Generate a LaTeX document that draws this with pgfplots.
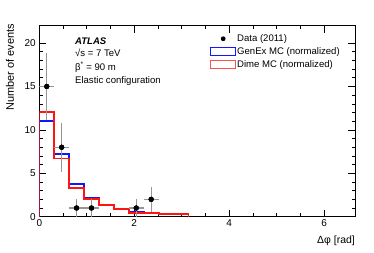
\documentclass[border=0pt]{standalone}
\usepackage{fontspec}
\setmainfont{Liberation Sans}
\usepackage{pgfplots}
\pgfplotsset{compat=1.18}
\definecolor{hblue}{RGB}{20,20,255}
\definecolor{hred}{RGB}{255,20,20}
\definecolor{lred}{RGB}{255,80,80}
\definecolor{errgray}{RGB}{150,150,150}
\begin{document}
\begin{tikzpicture}
\begin{axis}[
  at={(0,0)}, anchor=south west,
  scale only axis, width=315.7bp, height=191bp,
  xmin=0, xmax=6.65, ymin=0, ymax=22,
  xtick={0,2,4,6}, minor x tick num=3,
  ytick={0,5,10,15,20}, minor y tick num=4,
  tick align=inside,
  major tick length=7bp, minor tick length=3.5bp,
  tick style={black, line width=0.6bp},
  axis line style={line width=0.8bp},
  /pgf/number format/assume math mode=true,
  ticklabel style={font=\fontsize{10}{12}\selectfont},
  xticklabel style={yshift=1bp},
  xlabel={Δφ [rad]},
  xlabel style={at={(axis description cs:1,-0.127)}, anchor=east, font=\fontsize{10.5}{12}\selectfont, inner sep=0pt},
  ylabel={Number of events},
  ylabel style={at={(axis description cs:-0.093,1.01)}, anchor=east, font=\fontsize{11}{13}\selectfont, inner sep=0pt},
  legend style={at={(axis description cs:0.5407,0.96)}, anchor=north west, draw=none, fill=none, inner sep=0pt,
    font=\fontsize{9.6}{11.5}\selectfont, nodes={inner sep=1pt}, row sep=2.7bp,
    /tikz/every even column/.append style={column sep=4.3bp}},
  legend cell align=left,
]
\addlegendimage{legend image code/.code={\path[draw=none,fill=none] (0bp,-4bp) rectangle (25bp,4bp); \fill[black, draw=none] (12.5bp,0bp) circle (2.4bp);}}
\addlegendentry{Data (2011)}
\addlegendimage{legend image code/.code={\draw[hblue, fill=none, line width=1bp] (0bp,-4bp) rectangle (25bp,4bp);}}
\addlegendentry{GenEx MC (normalized)}
\addlegendimage{legend image code/.code={\draw[lred, fill=none, line width=1bp] (0bp,-4bp) rectangle (25bp,4bp);}}
\addlegendentry{Dime MC (normalized)}

% GenEx MC histogram (bins of pi/10)
\addplot[const plot, draw=hblue, line width=1.8bp, forget plot] coordinates {
 (0,0) (0,11.0) (0.3142,7.25) (0.6283,3.8) (0.9425,2.15) (1.2566,1.3) (1.5708,0.95)
 (1.8850,0.5) (2.1991,0.45) (2.5133,0.35) (2.8274,0.3) (3.1416,0.3) (3.1416,0)};
% Dime MC histogram
\addplot[const plot, draw=hred, line width=1.8bp, forget plot] coordinates {
 (0,0) (0,12.1) (0.3142,6.7) (0.6283,3.35) (0.9425,2.0) (1.2566,1.35) (1.5708,0.85)
 (1.8850,0.42) (2.1991,0.45) (2.5133,0.3) (2.8274,0.28) (3.1416,0.28) (3.1416,0)};
% Data
\addplot[only marks, mark=*, mark size=2.4bp, black, forget plot,
  error bars/.cd, x dir=both, x explicit, y dir=both, y explicit,
  error bar style={errgray, line width=1.2bp}, error mark=none]
 coordinates {
 (0.1571,15) +- (0.1571,3.873)
 (0.4712,8) +- (0.1571,2.828)
 (0.7854,1) +- (0.1571,1)
 (1.0996,1) +- (0.1571,1)
 (2.0420,1) +- (0.1571,1)
 (2.3562,2) +- (0.1571,1.414)
 };
\addplot[only marks, mark=*, mark size=2.4bp, black, forget plot] coordinates {
 (0.1571,15) (0.4712,8) (0.7854,1) (1.0996,1) (2.0420,1) (2.3562,2)};

\node[anchor=base west, inner sep=0pt, font=\fontsize{9.6}{11.5}\selectfont\bfseries\itshape] at (axis description cs:0.113,0.899) {ATLAS};
\node[anchor=base west, inner sep=0pt, font=\fontsize{9.6}{11.5}\selectfont] at (axis description cs:0.113,0.838) {√s = 7 TeV};
\node[anchor=base west, inner sep=0pt, font=\fontsize{9.6}{11.5}\selectfont] at (axis description cs:0.113,0.768) {β\textsuperscript{*} = 90 m};
\node[anchor=base west, inner sep=0pt, font=\fontsize{9.6}{11.5}\selectfont] at (axis description cs:0.113,0.698) {Elastic configuration};
\end{axis}
\pgfresetboundingbox
\useasboundingbox (-39.3bp,-36.3bp) rectangle (334.7bp,216.7bp);
\end{tikzpicture}
\end{document}
